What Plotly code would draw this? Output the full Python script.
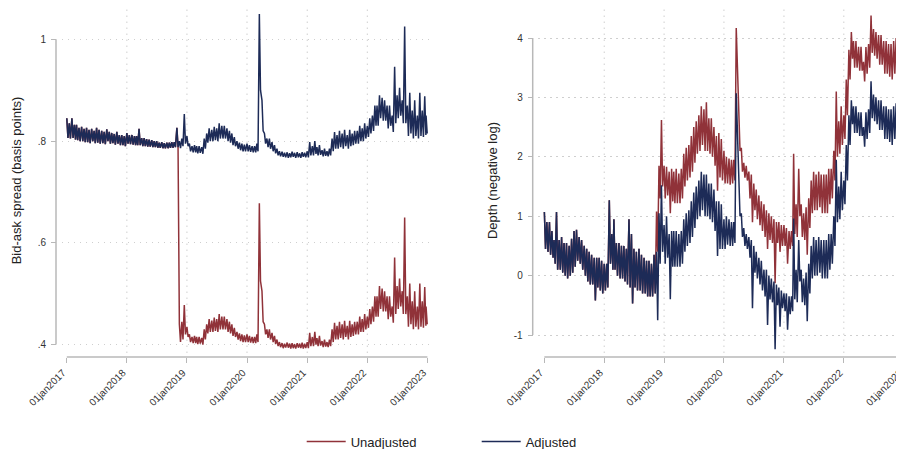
import pandas as pd
import plotly.graph_objects as go

# ---------------- data ----------------
# For every half-month (1st / 16th) the top and bottom of the noisy band were read;
# the line visits the top on day 1/16 and the bottom a week later.
half_months = [f"{y}-{m:02d}-{d}" for y in range(2017, 2023) for m in range(1, 13) for d in ("01", "16")]
half_months.append("2022-12-24")

BREAK = 45  # index of 2018-11-16, first half-month where unadjusted differs from adjusted

# ---- Bid-ask spread, adjusted (navy) ----
spread_adj_hi = [
    .845, .835, .845, .832, .832, .826, .828, .824, .826, .822, .824, .820,
    .826, .822, .820, .818, .823, .818, .816, .814, .818, .812, .812, .810,
    .816, .812, .812, .810, .810, .824, .806, .806, .804, .803, .802, .800,
    .800, .797, .798, .796, .797, .797, .798, .798, .826, .800, .805, .853,
    .810, .795, .790, .792, .790, .790, .788, .805, .815, .825, .822, .828,
    .825, .835, .830, .830, .825, .820, .815, .808, .800, .797, .795, .793,
    .795, .792, .790, .790, .795, 1.050, .880, .815, .805, .805, .798, .792,
    .785, .780, .779, .777, .778, .776, .779, .777, .778, .776, .778, .777,
    .780, .798, .790, .800, .788, .792, .782, .785, .780, .785, .805, .818,
    .812, .820, .815, .822, .812, .822, .815, .820, .820, .830, .825, .835,
    .830, .845, .850, .870, .870, .890, .885, .880, .870, .870, .850, .946,
    .890, .905, .880, 1.025, .870, .895, .860, .880, .850, .895, .860, .888,
    .850,
]
spread_adj_lo = [
    .806, .805, .806, .803, .802, .800, .800, .798, .798, .796, .800, .796,
    .797, .795, .796, .794, .800, .795, .796, .793, .795, .792, .792, .790,
    .795, .794, .793, .792, .792, .792, .790, .790, .789, .789, .788, .788,
    .787, .787, .786, .786, .786, .787, .787, .788, .788, .786, .790, .795,
    .790, .780, .778, .778, .776, .777, .775, .785, .797, .800, .800, .802,
    .800, .805, .805, .805, .800, .797, .792, .790, .785, .782, .780, .780,
    .780, .779, .778, .778, .780, .900, .820, .795, .788, .785, .780, .776,
    .772, .770, .769, .768, .767, .768, .769, .767, .768, .767, .769, .768,
    .768, .772, .772, .775, .772, .773, .770, .771, .770, .772, .780, .785,
    .785, .788, .785, .790, .785, .790, .792, .795, .795, .800, .800, .805,
    .808, .815, .820, .830, .830, .845, .840, .840, .825, .830, .818, .835,
    .845, .850, .835, .835, .810, .815, .805, .810, .805, .810, .808, .812,
    .815,
]

# ---- Bid-ask spread, unadjusted (maroon), from 2018-11-16 on ----
spread_unadj_hi_after = [
    .440, .445, .478,
    .435, .420, .415, .417, .415, .415, .413, .430, .440, .450, .447, .453,
    .450, .460, .455, .455, .450, .445, .440, .433, .425, .422, .420, .418,
    .420, .417, .415, .415, .420, .678, .505, .440, .430, .430, .423, .417,
    .410, .405, .403, .402, .404, .402, .403, .401, .403, .402, .404, .402,
    .405, .423, .415, .425, .413, .417, .407, .410, .405, .410, .430, .443,
    .437, .445, .440, .447, .437, .447, .440, .445, .445, .455, .450, .460,
    .455, .470, .475, .495, .495, .515, .510, .505, .495, .495, .475, .571,
    .515, .530, .505, .650, .495, .520, .485, .505, .475, .520, .485, .513,
    .475,
]
spread_unadj_lo_after = [
    .405, .410, .420,
    .415, .405, .403, .403, .401, .402, .400, .410, .422, .425, .425, .427,
    .425, .430, .430, .430, .425, .422, .417, .415, .410, .407, .405, .405,
    .405, .404, .403, .403, .405, .525, .445, .420, .413, .410, .405, .401,
    .397, .395, .393, .394, .394, .392, .393, .392, .394, .393, .392, .393,
    .393, .397, .397, .400, .397, .398, .395, .396, .395, .397, .405, .410,
    .410, .413, .410, .415, .410, .415, .417, .420, .420, .425, .425, .430,
    .433, .440, .445, .455, .455, .470, .465, .465, .450, .455, .443, .460,
    .470, .475, .460, .460, .435, .440, .430, .435, .430, .435, .433, .437,
    .440,
]

# ---- Depth, adjusted (navy) ----
depth_adj_hi = [
    1.07, 0.90, 0.90, 0.75, 0.60, 1.07, 0.60, 0.65, 0.55, 0.55, 0.50, 0.62,
    0.75, 0.77, 0.65, 0.60, 0.50, 0.45, 0.40, 0.35, 0.30, 0.30, 0.30, 0.25,
    0.20, 0.20, 1.27, 0.70, 0.95, 0.55, 0.55, 0.50, 0.50, 0.45, 0.95, 0.70,
    0.45, 0.40, 0.45, 0.35, 0.30, 0.25, 0.25, 0.20, 0.35, 0.40, 1.05, 1.52,
    0.85, 1.00, 0.70, 0.75, 0.75, 0.75, 0.70, 0.75, 0.95, 1.05, 1.10, 1.25,
    1.40, 1.50, 1.60, 1.75, 1.70, 1.70, 1.55, 1.55, 1.45, 1.25, 1.25, 1.20,
    0.95, 1.00, 0.95, 0.90, 0.90, 3.07, 1.60, 1.05, 0.80, 0.70, 0.65, 0.60,
    0.50, 0.40, 0.30, 0.25, 0.10, 0.10, 0.00, -0.05, -0.10, -0.15, -0.20, -0.25,
    -0.30, -0.30, -0.35, -0.35, 0.96, 0.10, 0.60, 0.10, -0.05, 0.05, 0.20, 0.50,
    0.65, 0.60, 0.65, 0.60, 0.60, 0.60, 0.70, 0.70, 1.00, 1.95, 1.50, 1.75,
    1.60, 2.20, 2.70, 2.95, 2.85, 2.85, 2.75, 2.75, 2.50, 2.75, 2.80, 3.27,
    3.05, 3.00, 2.95, 2.95, 2.85, 2.85, 2.80, 2.80, 2.85, 2.90, 2.85, 2.85,
    2.80,
]
depth_adj_lo = [
    0.45, 0.40, 0.35, 0.30, 0.20, 0.10, 0.10, 0.05, 0.00, -0.05, 0.00, 0.05,
    0.15, 0.25, 0.20, 0.10, 0.00, -0.10, -0.15, -0.15, -0.42, -0.20, -0.25, -0.30,
    -0.25, -0.20, 0.20, 0.10, 0.10, 0.00, -0.05, -0.05, -0.10, -0.15, -0.20, -0.47,
    -0.20, -0.25, -0.25, -0.30, -0.30, -0.35, -0.35, -0.35, -0.30, -0.75, 0.20, 0.40,
    0.20, 0.30, -0.40, 0.15, 0.15, 0.15, 0.15, 0.20, 0.40, 0.50, 0.55, 0.65,
    0.80, 0.95, 1.00, 1.10, 1.00, 1.00, 0.95, 0.90, 0.75, 0.33, 0.45, 0.45,
    0.45, 0.52, 0.50, 0.50, 0.55, 2.30, 1.00, 0.65, 0.50, 0.45, 0.30, -0.55,
    0.05, -0.05, -0.15, -0.25, -0.35, -0.83, -0.40, -0.45, -1.24, -0.50, -0.86, -0.55,
    -0.60, -0.91, -0.65, -0.60, -0.40, -0.45, -0.10, -0.45, -0.50, -0.77, -0.30, -0.05,
    0.00, 0.00, 0.05, -0.05, -0.05, -0.05, 0.10, 0.20, 0.50, 0.90, 0.95, 1.10,
    1.20, 1.60, 2.20, 2.55, 2.40, 2.40, 2.35, 2.35, 2.17, 2.30, 2.40, 2.65,
    2.60, 2.55, 2.45, 2.45, 2.30, 2.30, 2.25, 2.20, 2.30, 2.30, 2.25, 2.30,
    2.35,
]

# ---- Depth, unadjusted (maroon), from 2018-11-16 on ----
depth_unadj_hi_after = [
    1.08, 1.85, 2.62,
    1.85, 1.83, 1.75, 1.80, 1.75, 1.80, 1.72, 1.80, 2.05, 2.15, 2.20, 2.35,
    2.50, 2.60, 2.70, 2.85, 2.80, 2.92, 2.65, 2.65, 2.50, 2.35, 2.40, 2.30,
    2.10, 2.00, 1.97, 1.95, 1.95, 4.17, 2.70, 2.15, 1.90, 1.85, 1.75, 1.70,
    1.55, 1.45, 1.35, 1.25, 1.20, 1.10, 1.05, 1.00, 0.95, 0.90, 0.90, 0.85,
    0.85, 0.80, 0.75, 0.75, 2.05, 1.20, 1.80, 1.20, 1.05, 1.15, 1.30, 1.60,
    1.75, 1.70, 1.75, 1.70, 1.70, 1.70, 1.80, 1.80, 2.10, 3.10, 2.60, 2.85,
    2.70, 3.30, 3.80, 4.10, 3.95, 3.95, 3.85, 3.85, 3.60, 3.85, 3.90, 4.38,
    4.15, 4.10, 4.05, 4.05, 3.95, 3.95, 3.90, 3.90, 3.95, 4.00, 3.95, 3.95,
    3.90,
]
depth_unadj_lo_after = [
    0.40, 1.30, 1.50,
    1.30, 1.35, 1.05, 1.25, 1.22, 1.22, 1.22, 1.30, 1.50, 1.60, 1.65, 1.75,
    1.90, 2.05, 2.10, 2.20, 2.10, 2.10, 2.05, 2.00, 1.85, 1.43, 1.65, 1.60,
    1.55, 1.55, 1.53, 1.55, 1.60, 3.40, 2.10, 1.75, 1.65, 1.60, 1.30, 0.90,
    1.10, 0.95, 0.85, 0.75, 0.65, 0.45, 0.60, 0.55, -0.13, 0.55, 0.40, 0.50,
    0.50, 0.20, 0.45, 0.50, 0.70, 0.65, 1.00, 0.65, 0.60, 0.35, 0.80, 1.05,
    1.10, 1.10, 1.15, 1.05, 1.05, 1.05, 1.20, 1.30, 1.60, 2.00, 2.05, 2.20,
    2.30, 2.70, 3.30, 3.65, 3.50, 3.50, 3.45, 3.45, 3.27, 3.40, 3.50, 3.75,
    3.70, 3.65, 3.55, 3.55, 3.40, 3.40, 3.35, 3.30, 3.40, 3.40, 3.35, 3.40,
    3.45,
]

# before the break both series coincide
spread_unadj_hi = spread_adj_hi[:BREAK] + spread_unadj_hi_after
spread_unadj_lo = spread_adj_lo[:BREAK] + spread_unadj_lo_after
depth_unadj_hi = depth_adj_hi[:BREAK] + depth_unadj_hi_after
depth_unadj_lo = depth_adj_lo[:BREAK] + depth_unadj_lo_after

for arr in (spread_adj_hi, spread_adj_lo, spread_unadj_hi, spread_unadj_lo,
            depth_adj_hi, depth_adj_lo, depth_unadj_hi, depth_unadj_lo):
    assert len(arr) == len(half_months), len(arr)

year_ticks = [f"{y}-01-01" for y in range(2017, 2024)]
year_labels = [f"01jan{y}" for y in range(2017, 2024)]
spread_ticks = [0.4, 0.6, 0.8, 1.0]
spread_labels = [".4", ".6", ".8", "1"]
depth_ticks = [-1, 0, 1, 2, 3, 4]
depth_labels = ["-1", "0", "1", "2", "3", "4"]


def band_path(hi, lo):
    xs, ys = [], []
    for d, h, l in zip(half_months, hi, lo):
        t = pd.Timestamp(d)
        xs += [t, t + pd.Timedelta(days=7)]
        ys += [h, l]
    return xs, ys


# ---------------- styling / layout ----------------
# the page adds an 8px body margin, so the figure is drawn 8px smaller
OFF = 8
W, H = 904 - OFF, 449 - OFF
RED = "#903239"
NAVY = "#1d2b57"
AXC = "#b8b8b8"
GRIDC = "#cfcfcf"
FONT = "Liberation Sans, Arial, Helvetica, sans-serif"


def px(x):
    return (x - OFF) / W


def py(y):
    return 1 - (y - OFF) / H


x1_dom = [px(61.7), px(433.3)]
x2_dom = [px(538.3), 1.0]
y_dom = [py(353), 1.0]
x1_rng = ["2016-12-01", "2023-02-06"]
x2_rng = ["2016-11-25", "2023-01-03"]
y1_rng = [0.3835, 1.0616]
y2_rng = [-1.303, 4.505]
xaxis_pos = py(357)
y1_pos = px(56)
y2_pos = px(532.7)


def date_to_paper(d, dom, rng):
    t = pd.Timestamp(d).value
    a, b = pd.Timestamp(rng[0]).value, pd.Timestamp(rng[1]).value
    return dom[0] + (t - a) / (b - a) * (dom[1] - dom[0])


def val_to_paper(v, dom, rng):
    return dom[0] + (v - rng[0]) / (rng[1] - rng[0]) * (dom[1] - dom[0])


fig = go.Figure()
line_w = 1.5
for hi, lo, name, color, xa, ya, leg in (
    (spread_unadj_hi, spread_unadj_lo, "Unadjusted", RED, "x", "y", True),
    (spread_adj_hi, spread_adj_lo, "Adjusted", NAVY, "x", "y", True),
    (depth_unadj_hi, depth_unadj_lo, "Unadjusted", RED, "x2", "y2", False),
    (depth_adj_hi, depth_adj_lo, "Adjusted", NAVY, "x2", "y2", False),
):
    xs, ys = band_path(hi, lo)
    fig.add_trace(go.Scatter(x=xs, y=ys, mode="lines", name=name, showlegend=leg,
                             line=dict(color=color, width=line_w), xaxis=xa, yaxis=ya))

xcommon = dict(type="date", tickvals=year_ticks, ticktext=year_labels, tickangle=-45,
               ticks="outside", ticklen=5, tickwidth=1.2, tickcolor=AXC,
               showgrid=False, zeroline=False, showline=False, anchor="free",
               position=xaxis_pos, automargin=False, ticklabeloverflow="allow",
               ticklabelshift=-4,
               tickfont=dict(size=10, color="#333333", family=FONT))
ycommon = dict(ticks="outside", ticklen=5, tickwidth=1.2, tickcolor=AXC,
               showgrid=True, gridcolor=GRIDC, gridwidth=1, griddash="1.5px,4.5px",
               zeroline=False, showline=False, anchor="free", domain=y_dom,
               automargin=False,
               tickfont=dict(size=10, color="#333333", family=FONT),
               ticklabelstandoff=3)

fig.update_layout(
    template="none",
    width=W, height=H,
    margin=dict(l=0, r=0, t=0, b=0, pad=0, autoexpand=False),
    paper_bgcolor="white", plot_bgcolor="white",
    font=dict(family=FONT, color="#222222"),
    xaxis=dict(domain=x1_dom, range=x1_rng, **xcommon),
    xaxis2=dict(domain=x2_dom, range=x2_rng, **xcommon),
    yaxis=dict(range=y1_rng, position=y1_pos, tickvals=spread_ticks, ticktext=spread_labels,
               title=dict(text="Bid-ask spread (basis points)", standoff=12,
                          font=dict(size=13, color="#222222")), **ycommon),
    yaxis2=dict(range=y2_rng, position=y2_pos, tickvals=depth_ticks, ticktext=depth_labels,
                title=dict(text="Depth (negative log)", standoff=12,
                           font=dict(size=13, color="#222222")), **ycommon),
    legend=dict(orientation="h", x=px(301.7), xanchor="left", y=-0.017, yanchor="bottom",
                font=dict(size=13, color="#222222", family=FONT),
                itemwidth=39, entrywidth=121, bgcolor="rgba(0,0,0,0)", borderwidth=0),
    showlegend=True,
)

shapes = []
for xa, ya in (("x", "y"), ("x2", "y2")):
    for d in year_ticks[1:-1]:
        shapes.append(dict(type="line", xref=xa, yref=f"{ya} domain", x0=d, x1=d, y0=0, y1=1,
                           line=dict(color=GRIDC, width=1, dash="1.5px,4.5px"), layer="below"))
for dom, rng in ((x1_dom, x1_rng), (x2_dom, x2_rng)):
    shapes.append(dict(type="line", xref="paper", yref="paper",
                       x0=date_to_paper(year_ticks[0], dom, rng),
                       x1=date_to_paper(year_ticks[-1], dom, rng),
                       y0=xaxis_pos, y1=xaxis_pos, line=dict(color=AXC, width=1.5)))
for pos, rng, ticks in ((y1_pos, y1_rng, spread_ticks), (y2_pos, y2_rng, depth_ticks)):
    shapes.append(dict(type="line", xref="paper", yref="paper", x0=pos, x1=pos,
                       y0=val_to_paper(ticks[0], y_dom, rng),
                       y1=val_to_paper(ticks[-1], y_dom, rng),
                       line=dict(color=AXC, width=1.5)))
fig.update_layout(shapes=shapes)

fig.write_html("out.html")
